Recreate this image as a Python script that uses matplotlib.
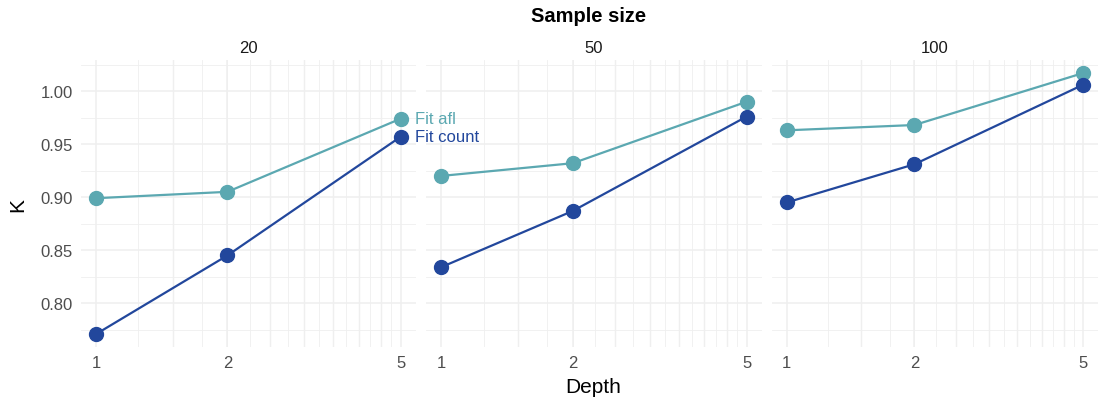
import numpy as np
import matplotlib
matplotlib.use("Agg")
import matplotlib.pyplot as plt

plt.rcParams['font.family'] = ['Liberation Sans', 'DejaVu Sans']

# dados
depth = [1, 2, 5]
sample_sizes = ["20", "50", "100"]
fit_afl = [[0.899, 0.905, 0.974],
           [0.920, 0.932, 0.990],
           [0.963, 0.968, 1.017]]
fit_count = [[0.771, 0.845, 0.957],
             [0.834, 0.887, 0.976],
             [0.895, 0.931, 1.006]]

c_afl = "#5BA8B1"
c_count = "#22479C"
grid_c = "#EFEFEF"

W, H = 1098, 402
fig = plt.figure(figsize=(W / 100, H / 100), dpi=100)

panels_x = [(81, 416), (426, 762), (772, 1098)]
top, bottom = 61, 348

ymin, ymax = 0.7587, 1.0293
lx0 = np.log10(1) - 0.035
lx1 = np.log10(5) + 0.035

minor_x = np.arange(1.25, 5.0, 0.25)
half_x = [1.5, 2.5, 3, 3.5, 4, 4.5]

axes = []
for i, (x0, x1) in enumerate(panels_x):
    ax = fig.add_axes([x0 / W, 1 - bottom / H, (x1 - x0) / W, (bottom - top) / H])
    axes.append(ax)
    ax.set_facecolor("none")
    ax.set_xscale("log")
    ax.set_xlim(10 ** lx0, 10 ** lx1)
    ax.set_ylim(ymin, ymax)
    for s in ax.spines.values():
        s.set_visible(False)
    # grade
    for v in minor_x:
        lw = 1.0 if v in half_x else 0.6
        ax.axvline(v, color=grid_c, lw=lw, zorder=0)
    for v in depth:
        ax.axvline(v, color=grid_c, lw=1.1, zorder=0)
    for v in np.arange(0.775, 1.03, 0.05):
        ax.axhline(v, color=grid_c, lw=0.6, zorder=0)
    for v in np.arange(0.80, 1.01, 0.05):
        ax.axhline(v, color=grid_c, lw=1.1, zorder=0)

    ax.plot(depth, fit_afl[i], color=c_afl, lw=1.6, marker="o", ms=10, zorder=3)
    ax.plot(depth, fit_count[i], color=c_count, lw=1.6, marker="o", ms=10, zorder=3)

    ax.set_xticks(depth)
    ax.set_xticklabels([str(d) for d in depth])
    ax.xaxis.set_minor_locator(matplotlib.ticker.NullLocator())
    ax.tick_params(length=0, labelsize=12, labelcolor="#4D4D4D", pad=6)
    ax.set_yticks([0.80, 0.85, 0.90, 0.95, 1.00])
    if i == 0:
        ax.set_yticklabels(["0.80", "0.85", "0.90", "0.95", "1.00"])
    else:
        ax.set_yticklabels([])
    ax.set_title(sample_sizes[i], fontsize=12, color="#1A1A1A", pad=6)

axes[0].set_zorder(5)

# rótulos das linhas
axes[0].annotate("Fit afl", (5, fit_afl[0][2]), xytext=(10, 0), textcoords="offset points",
                 va="center", ha="left", color=c_afl, fontsize=12, annotation_clip=False)
axes[0].annotate("Fit count", (5, fit_count[0][2]), xytext=(10, 0), textcoords="offset points",
                 va="center", ha="left", color=c_count, fontsize=12, annotation_clip=False)

fig.text(589 / W, 1 - 17 / H, "Sample size", ha="center", va="center",
         fontsize=14.5, fontweight="bold")
fig.text(593 / W, 1 - 388 / H, "Depth", ha="center", va="center", fontsize=15)
fig.text(18 / W, 1 - 205 / H, "K", ha="center", va="center", fontsize=15, rotation=90)

fig.savefig("out.png", dpi=100)
